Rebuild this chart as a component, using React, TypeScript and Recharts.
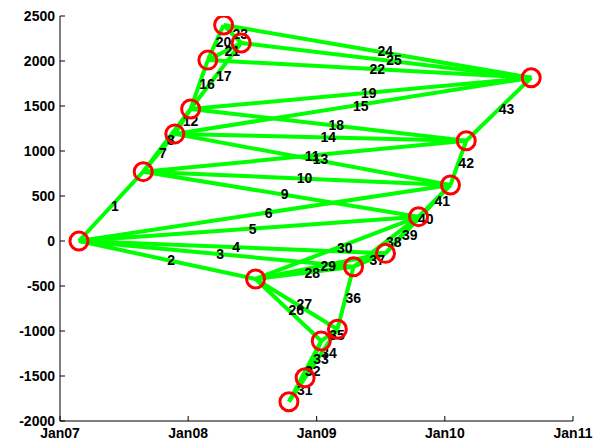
import React from 'react'
import { ScatterChart, Scatter, XAxis, YAxis } from 'recharts'

// graph nodes: date and value
const nodeDates = [
  '2007-02-24', '2007-08-26', '2007-11-24', '2008-01-08', '2008-02-26', '2008-04-11',
  '2008-05-31', '2008-07-11', '2008-10-14', '2008-11-29', '2009-01-14', '2009-03-01',
  '2009-04-16', '2009-07-16', '2009-10-18', '2010-01-17', '2010-03-03', '2010-09-04',
]
const nodeValues = [
  0, 770, 1190, 1467, 2010, 2400, 2200, -422, -1786, -1519, -1111, -981,
  -286, -137, 270, 622, 1114, 1814,
]

// edges, numbered 1..43 in this order
const edgeFrom = [
  0, 0, 0, 0, 0, 0, 1, 1, 1, 1, 1, 2, 2, 2, 2, 3, 3, 3, 3, 4, 4, 4,
  5, 5, 6, 7, 7, 7, 7, 7, 8, 8, 9, 9, 10, 11, 12, 12, 13, 13, 14, 15, 16,
]
const edgeTo = [
  1, 7, 12, 13, 14, 15, 2, 3, 14, 15, 16, 3, 15, 16, 17, 4, 6, 16, 17, 5, 6, 17,
  6, 17, 17, 10, 11, 12, 13, 14, 9, 10, 10, 11, 11, 12, 13, 14, 14, 15, 15, 16, 17,
]

const xTicks = ['2007-01-01', '2008-01-01', '2009-01-01', '2010-01-01', '2011-01-01']
const yTicks = [-2000, -1500, -1000, -500, 0, 500, 1000, 1500, 2000, 2500]

const t = (d: string) => new Date(d).getTime()
const nodes = nodeDates.map((d, i) => ({ x: t(d), y: nodeValues[i] }))
const edges = edgeFrom.map((f, i) => [nodes[f], nodes[edgeTo[i]]])
const mids = edges.map(([a, b], i) => ({ x: (a.x + b.x) / 2, y: (a.y + b.y) / 2, label: i + 1 }))

const FONT = '"Liberation Sans", Arial, Helvetica, sans-serif'

const fmtDate = (v: number) => {
  const d = new Date(v)
  return 'Jan' + String(d.getUTCFullYear()).slice(2)
}

const YTick = ({ x, y, payload }: any) => (
  <g>
    <line x1={x} x2={x + 5} y1={y} y2={y} stroke="#000" />
    <text x={x - 5} y={y} dy="0.35em" textAnchor="end" fontSize={14} fontWeight="bold" fontFamily={FONT} fill="#000">
      {payload.value}
    </text>
  </g>
)

const XTick = ({ x, y, payload }: any) => (
  <g>
    <line x1={x} x2={x} y1={y} y2={y - 5} stroke="#000" />
    <text x={x} y={y + 17} textAnchor="middle" fontSize={14} fontWeight="bold" fontFamily={FONT} fill="#000">
      {fmtDate(payload.value)}
    </text>
  </g>
)

const EdgeLabel = ({ cx, cy, payload }: any) => (
  <text x={cx} y={cy} dy="0.35em" textAnchor="start" fontSize={14} fontWeight="bold" fontFamily={FONT} fill="#000">
    {payload.label}
  </text>
)

const NodeMark = ({ cx, cy }: any) => (
  <circle cx={cx} cy={cy} r={9} fill="none" stroke="#ff0000" strokeWidth={3} />
)

const NoMark = () => <g />

export default function App() {
  return (
    <div style={{ width: 593, height: 435, background: '#fff' }}>
      <ScatterChart width={593} height={435} margin={{ top: 8, right: 28, left: 0, bottom: 0 }}>
        <XAxis
          type="number"
          dataKey="x"
          domain={[t(xTicks[0]), t(xTicks[xTicks.length - 1])]}
          ticks={xTicks.map(t)}
          allowDataOverflow
          height={22}
          tickSize={0}
          tickMargin={0}
          tickLine={false}
          axisLine={{ stroke: '#000' }}
          tick={<XTick />}
          interval={0}
        />
        <YAxis
          type="number"
          dataKey="y"
          domain={[-2000, 2500]}
          ticks={yTicks}
          allowDataOverflow
          width={52}
          tickSize={0}
          tickMargin={0}
          tickLine={false}
          axisLine={{ stroke: '#000' }}
          tick={<YTick />}
          interval={0}
        />
        {edges.map((e, i) => (
          <Scatter
            key={'edge-' + i}
            data={e}
            line={{ stroke: '#00ff00', strokeWidth: 4 }}
            lineType="joint"
            shape={<NoMark />}
            isAnimationActive={false}
          />
        ))}
        <Scatter data={mids} shape={<EdgeLabel />} isAnimationActive={false} />
        <Scatter data={nodes} shape={<NodeMark />} isAnimationActive={false} />
      </ScatterChart>
    </div>
  )
}
